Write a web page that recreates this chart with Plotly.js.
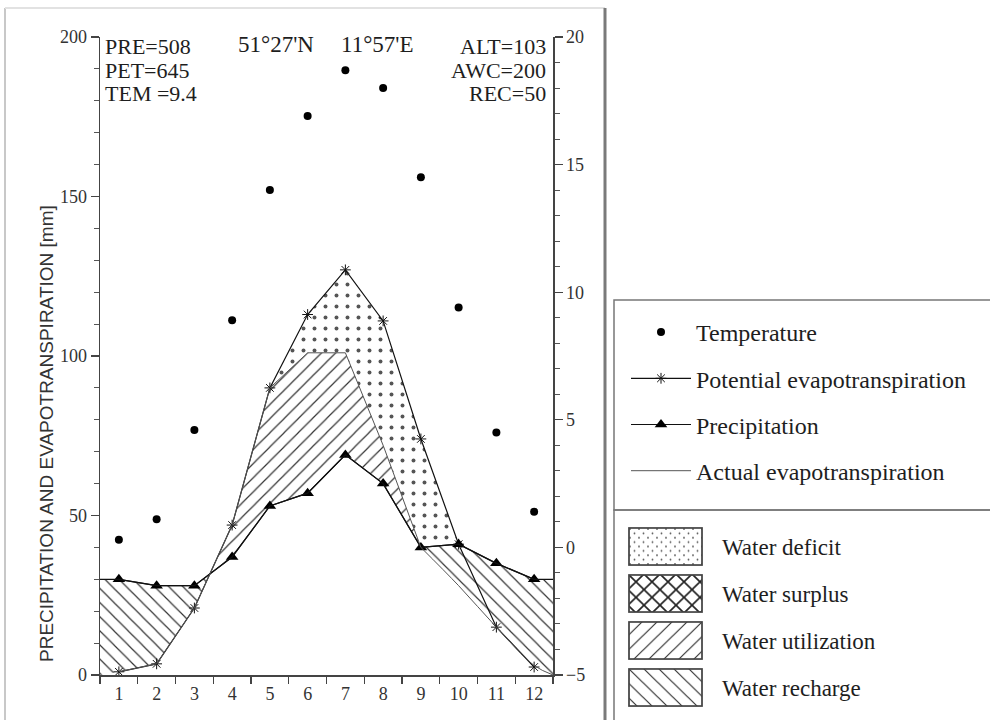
<!DOCTYPE html>
<html>
<head>
<meta charset="utf-8">
<script src="https://cdn.plot.ly/plotly-3.0.1.min.js"></script>
<style>html,body{margin:0;padding:0;background:#fff;}#chart{width:990px;height:720px;}</style>
</head>
<body>
<div id="chart"></div>
<script>
// ---------------- data ----------------
const months = [1, 2, 3, 4, 5, 6, 7, 8, 9, 10, 11, 12];
const monthLabels = ['1', '2', '3', '4', '5', '6', '7', '8', '9', '10', '11', '12'];
const temperature = [0.3, 1.1, 4.6, 8.9, 14.0, 16.9, 18.7, 18.0, 14.5, 9.4, 4.5, 1.4];
const precipitation = [30, 28, 28, 37, 53, 57, 69, 60, 40, 41, 35, 30];
const potentialET = [1, 3.5, 21, 47, 90, 113, 127, 111, 74, 41, 15, 2.5];
const actualET = [1, 3.5, 21, 47, 90, 101, 101, 72, 40, 28, 15, 3];
const leftStats = ['PRE=508', 'PET=645', 'TEM =9.4'];
const rightStats = ['ALT=103', 'AWC=200', 'REC=50'];
const latitude = "51°27'N";
const longitude = "11°57'E";
const lineNames = ['Temperature', 'Potential evapotranspiration', 'Precipitation', 'Actual evapotranspiration'];
const areaNames = ['Water deficit', 'Water surplus', 'Water utilization', 'Water recharge'];
const areaKinds = ['dots', 'cross', 'slash', 'backslash'];
const yTitle = 'PRECIPITATION AND EVAPOTRANSPIRATION [mm]';

// ---------------- geometry helpers ----------------
const W = 990, H = 720;
const PL = 100, PR = 553, PT = 37, PB = 675;
const px = x => (x - PL) / (PR - PL);
const py = y => (PB - y) / (PB - PT);
const xRange = [0.5, 12.5];
const yRange = [0, 200];
const tRange = [-5, 20];

const SERIF = 'Liberation Serif, Times New Roman, serif';
const INK = '#1e1e1e';
const HATCH = '#333';

// crossing of precipitation and PET (spring)
let ci = 0;
for (let i = 0; i < months.length - 1; i++) {
  if (precipitation[i] > potentialET[i] && precipitation[i + 1] < potentialET[i + 1]) { ci = i; break; }
}
const d0 = precipitation[ci] - potentialET[ci], d1 = precipitation[ci + 1] - potentialET[ci + 1];
const tc = d0 / (d0 - d1);
const xc = months[ci] + tc * (months[ci + 1] - months[ci]);
const yc = precipitation[ci] + tc * (precipitation[ci + 1] - precipitation[ci]);

// end of utilization: first month after crossing where AET falls back to precipitation
let ue = ci + 1;
for (let i = ci + 1; i < months.length; i++) { if (actualET[i] <= precipitation[i]) { ue = i; break; } }

// deficit band: where PET exceeds max(AET, P)
const supplied = months.map((m, i) => Math.max(actualET[i], precipitation[i]));
let ds = 0, de = months.length - 1;
for (let i = 0; i < months.length - 1; i++) { if (potentialET[i + 1] > supplied[i + 1]) { ds = i; break; } }
for (let i = ds + 1; i < months.length; i++) { if (potentialET[i] <= supplied[i]) { de = i; break; } }

function pattern(shape) {
  if (shape === '.') return {shape: '.', fgcolor: '#555', bgcolor: 'rgba(0,0,0,0)', size: 11, solidity: 0.1};
  return {shape: shape, fgcolor: HATCH, bgcolor: 'rgba(0,0,0,0)', size: 10, solidity: 0.12};
}
function band(xs, lower, upper, shape, name, lowerShape) {
  return [
    {x: xs, y: lower, mode: 'lines', line: {width: 0, shape: lowerShape || 'linear'},
     showlegend: false, hoverinfo: 'skip', legendgroup: name},
    {x: xs, y: upper, mode: 'lines', line: {width: 0}, fill: 'tonexty',
     fillcolor: 'rgba(0,0,0,0)', fillpattern: pattern(shape), name: name,
     showlegend: false, hoverinfo: 'skip', legendgroup: name}
  ];
}

const traces = [];
// left recharge: P above PET from axis start to the spring crossing
{
  const xs = [xRange[0]].concat(months.slice(0, ci + 1), [xc]);
  const lo = [yRange[0]].concat(potentialET.slice(0, ci + 1), [yc]);
  const up = [precipitation[0]].concat(precipitation.slice(0, ci + 1), [yc]);
  traces.push(...band(xs, lo, up, '\\', areaNames[3]));
}
// deficit
{
  const xs = months.slice(ds, de + 1);
  traces.push(...band(xs, supplied.slice(ds, de + 1), potentialET.slice(ds, de + 1), '.', areaNames[0]));
}
// utilization
{
  const xs = [xc].concat(months.slice(ci + 1, ue + 1));
  const lo = [yc].concat(precipitation.slice(ci + 1, ue + 1));
  const up = [yc].concat(actualET.slice(ci + 1, ue + 1));
  traces.push(...band(xs, lo, up, '/', areaNames[2]));
}
// right recharge
{
  const xs = months.slice(ue).concat([xRange[1]]);
  const lo = actualET.slice(ue).concat([yRange[0]]);
  const up = precipitation.slice(ue).concat([precipitation[precipitation.length - 1]]);
  traces.push(...band(xs, lo, up, '\\', areaNames[3], 'spline'));
}

// temperature
traces.push({x: months, y: temperature, yaxis: 'y2', mode: 'markers', name: lineNames[0],
  marker: {symbol: 'circle', size: 8, color: '#000'}, legendgroup: 'tem', legendrank: 1});
// PET
traces.push({x: months, y: potentialET, mode: 'lines+markers', name: lineNames[1],
  line: {color: '#111', width: 1.2}, marker: {symbol: 'asterisk-open', size: 9, color: '#111', line: {width: 1, color: '#111'}},
  legendgroup: 'pet', legendrank: 2});
// precipitation
traces.push({x: months, y: precipitation, mode: 'lines+markers', name: lineNames[2],
  line: {color: '#111', width: 1.2}, marker: {symbol: 'triangle-up', size: 11, color: '#000'},
  legendgroup: 'pre', legendrank: 3});
// precipitation: flat extensions to axes
traces.push({x: [xRange[0]].concat(months, [xRange[1]]),
  y: [precipitation[0]].concat(precipitation, [precipitation[precipitation.length - 1]]),
  mode: 'lines', line: {color: '#111', width: 1.2}, showlegend: false, legendgroup: 'pre', hoverinfo: 'skip'});
// actual evapotranspiration lines
traces.push({x: months.slice(0, ue + 1), y: actualET.slice(0, ue + 1), mode: 'lines',
  line: {color: '#555', width: 1}, name: lineNames[3], legendgroup: 'aet', legendrank: 4, hoverinfo: 'skip'});
traces.push({x: months.slice(ue).concat([xRange[1]]), y: actualET.slice(ue).concat([yRange[0]]), mode: 'lines',
  line: {color: '#555', width: 1, shape: 'spline'}, showlegend: false, legendgroup: 'aet', hoverinfo: 'skip'});

// ---------------- annotations ----------------
const annotations = [];
leftStats.forEach((s, i) => annotations.push({xref: 'paper', yref: 'paper', x: px(103), y: py(46 + 24 * i),
  xanchor: 'left', yanchor: 'middle', text: s, showarrow: false, font: {family: SERIF, size: 22, color: INK}}));
rightStats.forEach((s, i) => annotations.push({xref: 'paper', yref: 'paper', x: px(548), y: py(46 + 24 * i),
  xanchor: 'right', yanchor: 'middle', text: s, showarrow: false, font: {family: SERIF, size: 22, color: INK}}));
annotations.push({xref: 'paper', yref: 'paper', x: px(276), y: py(45), xanchor: 'center', yanchor: 'middle',
  text: latitude, showarrow: false, font: {family: SERIF, size: 23, color: INK}});
annotations.push({xref: 'paper', yref: 'paper', x: px(377), y: py(45), xanchor: 'center', yanchor: 'middle',
  text: longitude, showarrow: false, font: {family: SERIF, size: 23, color: INK}});
annotations.push({xref: 'paper', yref: 'paper', x: px(46), y: py(434), xanchor: 'center', yanchor: 'middle',
  text: yTitle, textangle: -90, showarrow: false,
  font: {family: 'Liberation Sans Narrow, Liberation Sans, Arial Narrow, sans-serif', size: 19, color: '#333'}});

// area legend (swatches + labels)
function swatchSVG(kind) {
  let pat;
  if (kind === 'dots') {
    pat = '<pattern id="p" width="18" height="18" patternUnits="userSpaceOnUse">' +
      '<circle cx="4" cy="4" r="1.8" fill="#555"/><circle cx="13" cy="13" r="1.8" fill="#555"/></pattern>';
  } else if (kind === 'cross') {
    pat = '<pattern id="p" width="32" height="32" patternUnits="userSpaceOnUse">' +
      '<path d="M0,0L32,32M32,0L0,32" stroke="#222" stroke-width="3.4" fill="none"/></pattern>';
  } else if (kind === 'slash') {
    pat = '<pattern id="p" width="30" height="30" patternUnits="userSpaceOnUse">' +
      '<path d="M0,30L30,0M-8,8L8,-8M22,38L38,22" stroke="#333" stroke-width="2.4" fill="none"/></pattern>';
  } else {
    pat = '<pattern id="p" width="30" height="30" patternUnits="userSpaceOnUse">' +
      '<path d="M0,0L30,30M-8,22L8,38M22,-8L38,8" stroke="#333" stroke-width="2.4" fill="none"/></pattern>';
  }
  const svg = '<svg xmlns="http://www.w3.org/2000/svg" width="150" height="80" viewBox="0 0 150 80"><defs>' + pat +
    '</defs><rect x="2" y="2" width="146" height="76" fill="#fff"/><rect x="2" y="2" width="146" height="76" fill="url(#p)" stroke="#444" stroke-width="3.5"/></svg>';
  return 'data:image/svg+xml;charset=utf-8,' + encodeURIComponent(svg);
}
const images = [];
areaNames.forEach((n, i) => {
  const top = 527 + 47 * i;
  images.push({source: swatchSVG(areaKinds[i]), xref: 'paper', yref: 'paper', x: px(628), y: py(top),
    sizex: 75 / (PR - PL), sizey: 39 / (PB - PT), xanchor: 'left', yanchor: 'top', sizing: 'stretch', layer: 'above'});
  annotations.push({xref: 'paper', yref: 'paper', x: px(720), y: py(top + 20), xanchor: 'left', yanchor: 'middle',
    text: n, showarrow: false, font: {family: SERIF, size: 23, color: INK}});
});

// ---------------- frame shapes ----------------
const shapes = [
  {type: 'line', xref: 'paper', yref: 'paper', x0: px(5), x1: px(5), y0: py(8), y1: py(H), line: {color: '#c8c8c8', width: 2}},
  {type: 'line', xref: 'paper', yref: 'paper', x0: px(5), x1: px(605), y0: py(8), y1: py(8), line: {color: '#e2e2e2', width: 2}},
  {type: 'line', xref: 'paper', yref: 'paper', x0: px(605), x1: px(605), y0: py(8), y1: py(H), line: {color: '#7a7a7a', width: 3}},
  {type: 'rect', xref: 'paper', yref: 'paper', x0: px(614), x1: px(W + 5), y0: py(300), y1: py(510), line: {color: '#777', width: 1.5}},
  {type: 'rect', xref: 'paper', yref: 'paper', x0: px(614), x1: px(W + 5), y0: py(510), y1: py(H + 5), line: {color: '#777', width: 1.5}}
];

const axisCommon = {showgrid: false, zeroline: false, showline: true, linecolor: '#444', linewidth: 1.5,
  tickfont: {family: SERIF, size: 18, color: '#333'}, tickcolor: '#444', fixedrange: true};

const layout = {
  width: W, height: H,
  margin: {l: PL, r: W - PR, t: PT, b: H - PB, pad: 0},
  paper_bgcolor: '#fff', plot_bgcolor: '#fff',
  showlegend: true,
  xaxis: Object.assign({}, axisCommon, {range: xRange, tickmode: 'array', tickvals: months, ticktext: monthLabels,
    ticks: '', ticklabelstandoff: 2,
    minor: {tickmode: 'linear', tick0: 0.5, dtick: 1, ticks: 'outside', ticklen: 7, tickcolor: '#444', tickwidth: 1.2}}),
  yaxis: Object.assign({}, axisCommon, {range: yRange, tickmode: 'linear', tick0: 0, dtick: 50, ticks: 'outside',
    ticklen: 8, tickwidth: 1.2,
    minor: {tickmode: 'linear', tick0: 0, dtick: 10, ticks: 'outside', ticklen: 5, tickcolor: '#555', tickwidth: 1}}),
  yaxis2: Object.assign({}, axisCommon, {range: tRange, overlaying: 'y', side: 'right', tickmode: 'linear', tick0: -5, dtick: 5,
    ticks: 'outside', ticklen: 8, tickwidth: 1.2,
    minor: {tickmode: 'linear', tick0: -5, dtick: 1, ticks: 'outside', ticklen: 5, tickcolor: '#555', tickwidth: 1}}),
  legend: {x: px(626), y: py(310), xanchor: 'left', yanchor: 'top', bgcolor: 'rgba(0,0,0,0)', borderwidth: 0,
    font: {family: SERIF, size: 24, color: INK}, traceorder: 'grouped', tracegroupgap: 12, itemwidth: 60},
  annotations: annotations,
  shapes: shapes,
  images: images
};

Plotly.newPlot('chart', traces, layout, {displayModeBar: false, staticPlot: true});
</script>
</body>
</html>
